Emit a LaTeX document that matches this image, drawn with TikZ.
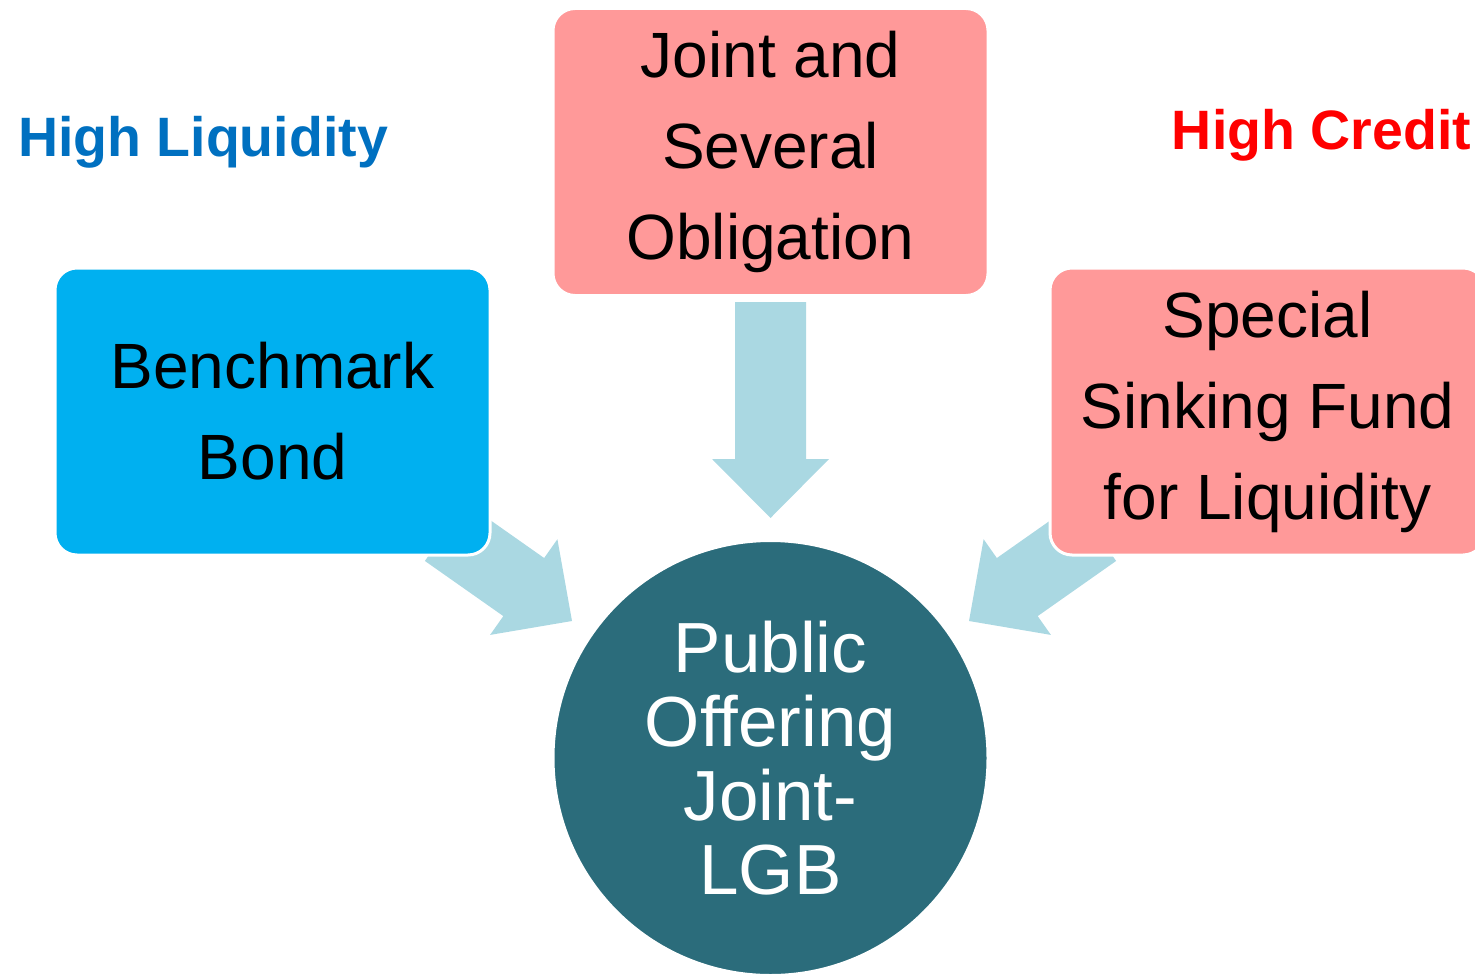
\documentclass[tikz,border=0pt]{standalone}
\usepackage{fontspec}
\setmainfont{Liberation Sans}
\usetikzlibrary{calc}

\definecolor{liqblue}{RGB}{0,112,192}
\definecolor{benchblue}{RGB}{0,176,240}
\definecolor{creditpink}{RGB}{255,153,153}
\definecolor{hubteal}{RGB}{43,108,123}
\definecolor{flowblue}{RGB}{170,216,226}

\begin{document}
\begin{tikzpicture}
  [x=0.5pt,y=-0.5pt,
   box/.style={rectangle,rounded corners=11pt,draw=white,line width=1.5pt,
     minimum width=217.5pt,minimum height=143.5pt,align=center,inner sep=0pt,
     font=\fontsize{32}{45.5}\selectfont},
   hub/.style={circle,draw=white,line width=1.5pt,fill=hubteal,text=white,
     minimum size=217.5pt,inner sep=0pt,align=center,
     font=\fontsize{35.5}{37}\selectfont},
   head/.style={anchor=base,font=\fontsize{27.75}{33}\selectfont\bfseries},
   flow/.style={fill=flowblue,draw=none,to path={
     ($(\tikztostart)!17.75pt!90:(\tikztotarget)$)
     -- ($(\tikztotarget)!29.5pt!(\tikztostart)!17.75pt!-90:(\tikztostart)$)
     -- ($(\tikztotarget)!29.5pt!(\tikztostart)!29.25pt!-90:(\tikztostart)$)
     -- (\tikztotarget)
     -- ($(\tikztotarget)!29.5pt!(\tikztostart)!29.25pt!90:(\tikztostart)$)
     -- ($(\tikztotarget)!29.5pt!(\tikztostart)!17.75pt!90:(\tikztostart)$)
     -- ($(\tikztostart)!17.75pt!-90:(\tikztotarget)$)
     -- cycle}}]
  \clip (0,0) rectangle (1475,973);

  \coordinate (jtail) at (770.5,302);
  \coordinate (jtip) at (770.5,518);
  \coordinate (btail) at (445.3,531.9);
  \coordinate (btip) at (572,621);
  \coordinate (stail) at (1095.7,531.9);
  \coordinate (stip) at (969,621);

  \foreach \from/\to in {jtail/jtip, btail/btip, stail/stip}
    \draw [flow] (\from) to (\to);

  \node [head,text=liqblue] (liq) at (203,157) {High Liquidity};
  \node [head,text=red] (credit) at (1321.5,150) {High Credit};

  \node [box,fill=benchblue] (bench) at (272.5,411.5) {Benchmark\\Bond};
  \node [box,fill=creditpink] (joint) at (770.5,152) {Joint and\\Several\\Obligation};
  \node [box,fill=creditpink] (sink) at (1267.5,411.5) {Special\\Sinking Fund\\for Liquidity};

  \node [hub] (lgb) at (770.5,758) {Public\\Offering\\Joint-\\LGB};

\end{tikzpicture}
\end{document}
